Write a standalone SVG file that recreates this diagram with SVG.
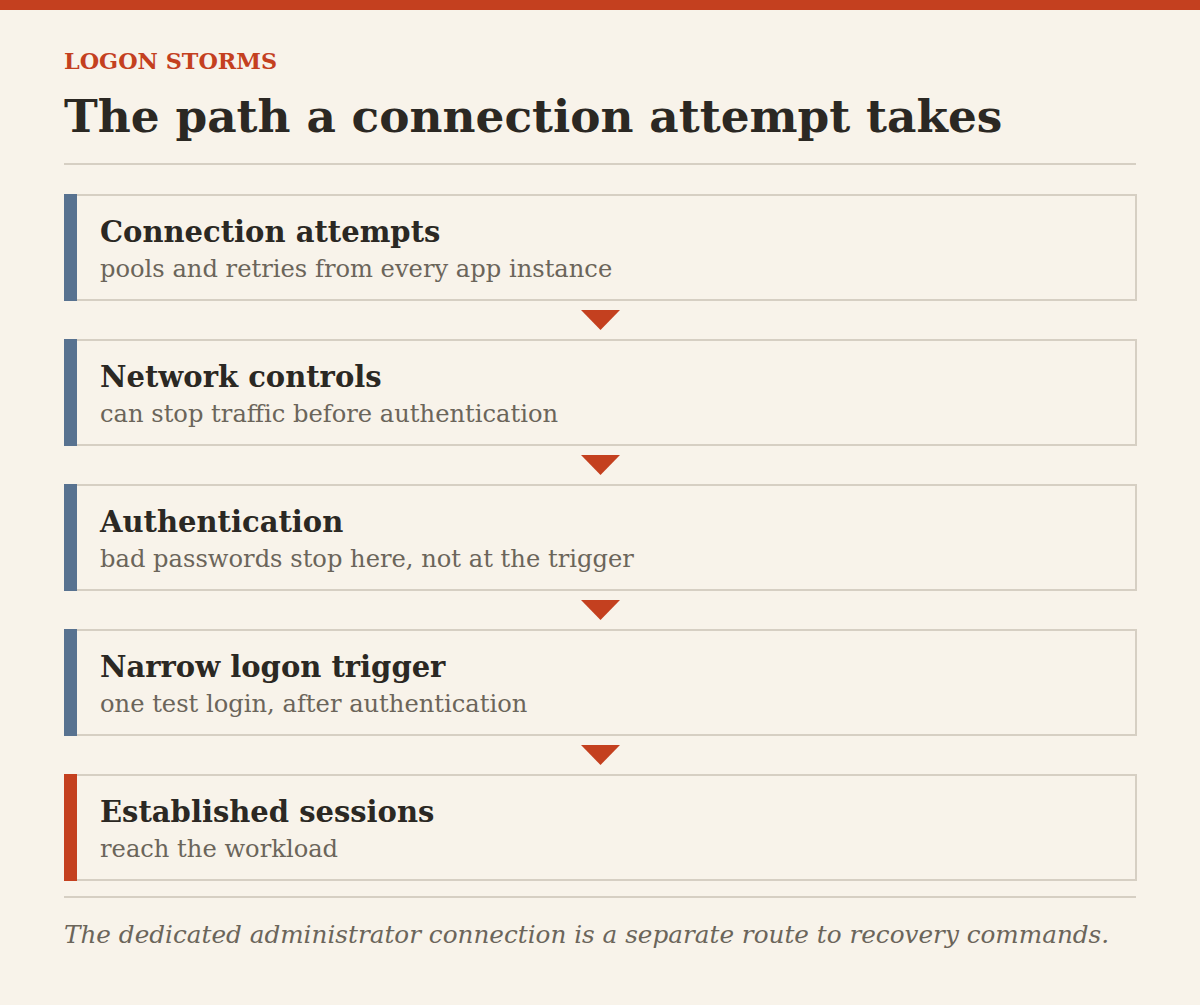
<svg xmlns="http://www.w3.org/2000/svg" width="1200" height="1005" viewBox="0 0 1200 1005">
<defs>
<style>
.bg{fill:#f8f3ea}
.box{fill:#f8f3ea;stroke:#d6cfc3;stroke-width:2}
.bar-blue{fill:#587290}
.bar-red{fill:#c4401f}
.rule{stroke:#d6cfc3;stroke-width:2}
.arrow{fill:#c4401f}
.kicker{font-family:"DejaVu Serif","Liberation Serif",serif;font-weight:bold;font-size:22.3px;fill:#c4401f}
.title{font-family:"DejaVu Serif","Liberation Serif",serif;font-weight:bold;font-size:45.4px;fill:#2b2823}
.head{font-family:"DejaVu Serif","Liberation Serif",serif;font-weight:bold;font-size:29px;fill:#2b2823}
.sub{font-family:"DejaVu Serif","Liberation Serif",serif;font-size:24.2px;fill:#6b655a}
.foot{font-family:"DejaVu Serif","Liberation Serif",serif;font-style:italic;font-size:24.7px;fill:#6b655a}
</style>
</defs>
<rect class="bg" x="0" y="0" width="1200" height="1005"/>
<rect x="0" y="0" width="1200" height="10" fill="#c4401f"/>
<text class="kicker" x="64" y="69">LOGON STORMS</text>
<text class="title" x="64" y="132">The path a connection attempt takes</text>
<line class="rule" x1="64" y1="164" x2="1136" y2="164"/>
<g id="connectors">
<polygon class="arrow" points="581,310 620,310 600.5,330"/>
<polygon class="arrow" points="581,455 620,455 600.5,475"/>
<polygon class="arrow" points="581,600 620,600 600.5,620"/>
<polygon class="arrow" points="581,745 620,745 600.5,765"/>
</g>
<g id="node-connection-attempts">
<rect class="box" x="65" y="195" width="1071" height="105"/>
<rect class="bar-blue" x="64" y="194" width="13" height="107"/>
<text class="head" x="100" y="242">Connection attempts</text>
<text class="sub" x="100" y="277">pools and retries from every app instance</text>
</g>
<g id="node-network-controls">
<rect class="box" x="65" y="340" width="1071" height="105"/>
<rect class="bar-blue" x="64" y="339" width="13" height="107"/>
<text class="head" x="100" y="387">Network controls</text>
<text class="sub" x="100" y="422">can stop traffic before authentication</text>
</g>
<g id="node-authentication">
<rect class="box" x="65" y="485" width="1071" height="105"/>
<rect class="bar-blue" x="64" y="484" width="13" height="107"/>
<text class="head" x="100" y="532">Authentication</text>
<text class="sub" x="100" y="567">bad passwords stop here, not at the trigger</text>
</g>
<g id="node-logon-trigger">
<rect class="box" x="65" y="630" width="1071" height="105"/>
<rect class="bar-blue" x="64" y="629" width="13" height="107"/>
<text class="head" x="100" y="677">Narrow logon trigger</text>
<text class="sub" x="100" y="712">one test login, after authentication</text>
</g>
<g id="node-established-sessions">
<rect class="box" x="65" y="775" width="1071" height="105"/>
<rect class="bar-red" x="64" y="774" width="13" height="107"/>
<text class="head" x="100" y="822">Established sessions</text>
<text class="sub" x="100" y="857">reach the workload</text>
</g>
<line class="rule" x1="64" y1="897" x2="1136" y2="897"/>
<text class="foot" x="64" y="943">The dedicated administrator connection is a separate route to recovery commands.</text>
</svg>
